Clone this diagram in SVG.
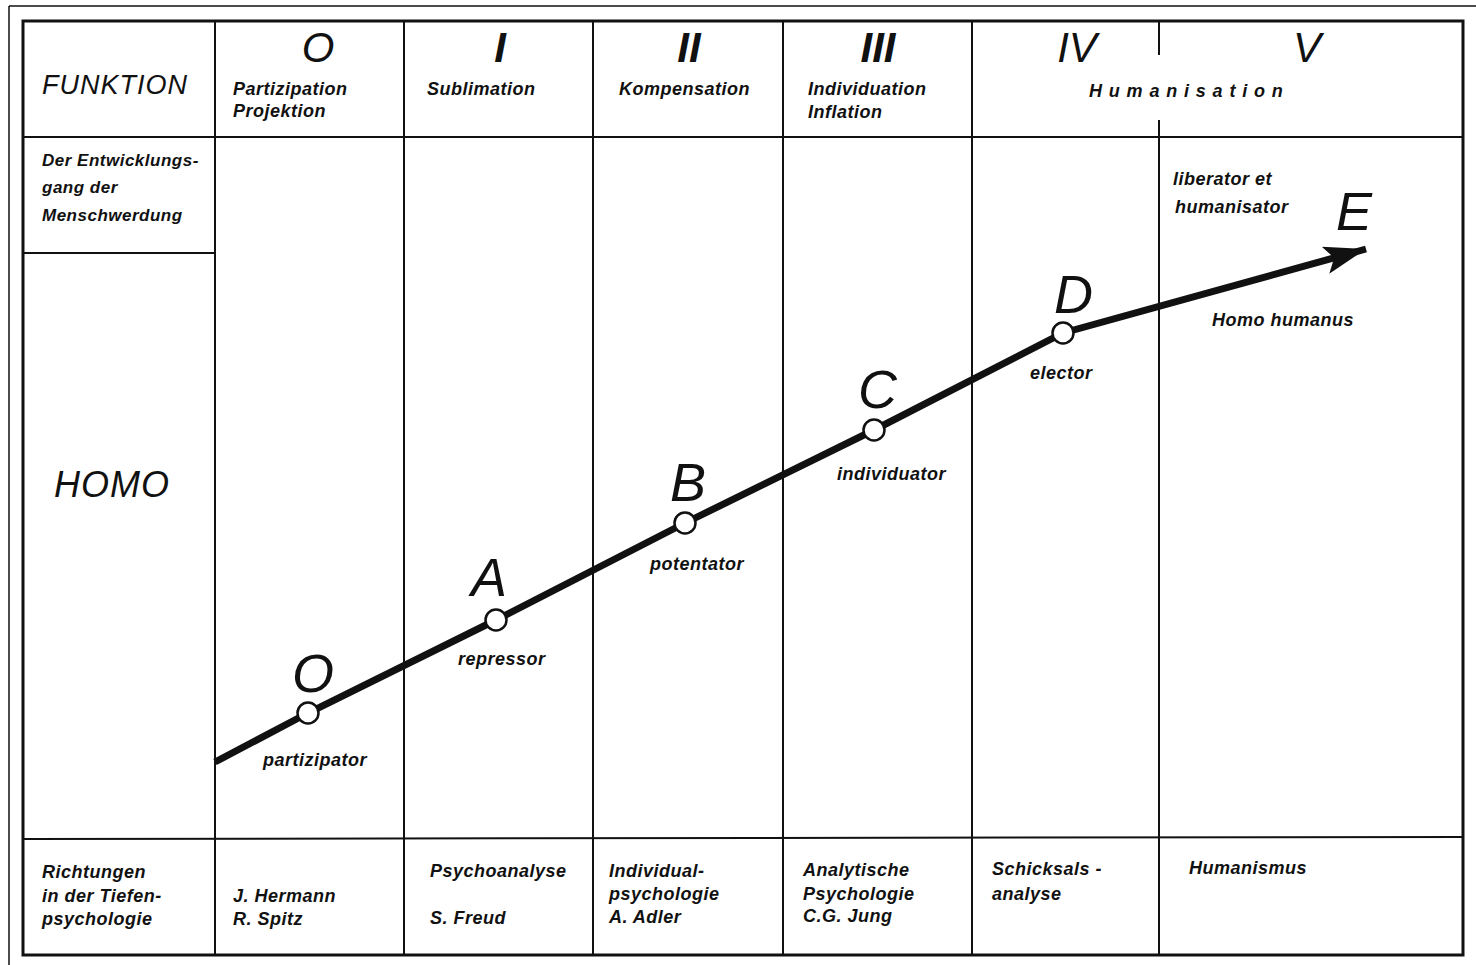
<svg xmlns="http://www.w3.org/2000/svg" width="1476" height="965" viewBox="0 0 1476 965">
<style>
.t{font-family:"Liberation Sans",Arial,sans-serif;font-style:italic;font-weight:bold;font-size:18px;letter-spacing:0.5px;fill:#111}
.big{font-family:"Liberation Sans",Arial,sans-serif;font-style:italic;font-weight:normal;font-size:54px;fill:#111}
.rn{font-family:"Liberation Sans",Arial,sans-serif;font-style:italic;font-weight:normal;font-size:42px;fill:#111;text-anchor:middle}
.hd{font-family:"Liberation Sans",Arial,sans-serif;font-style:italic;font-weight:normal;fill:#111}
.grid line{stroke:#111;stroke-width:2}
.node circle{fill:#fff;stroke:#111;stroke-width:2.5}
</style>
<defs>
<marker id="ah" markerUnits="userSpaceOnUse" markerWidth="44" markerHeight="28" refX="42" refY="14" orient="auto">
<path d="M0,0 L42,14 L0,28 L9,14 Z" fill="#111"/>
</marker>
</defs>
<rect width="1476" height="965" fill="#fff"/>
<g id="frame" class="grid">
<line x1="9" y1="6" x2="1476" y2="6" style="stroke-width:1.5"/>
<line x1="9" y1="6" x2="9" y2="965" style="stroke-width:1.5"/>
<rect x="23" y="21" width="1440" height="934" fill="none" stroke="#111" stroke-width="3"/>
<line x1="215" y1="21" x2="215" y2="955"/>
<line x1="404" y1="21" x2="404" y2="955"/>
<line x1="593" y1="21" x2="593" y2="955"/>
<line x1="783" y1="21" x2="783" y2="955"/>
<line x1="972" y1="21" x2="972" y2="955"/>
<line x1="1159" y1="21" x2="1159" y2="55"/>
<line x1="1159" y1="120" x2="1159" y2="955"/>
<line x1="23" y1="137" x2="1463" y2="137"/>
<line x1="23" y1="253" x2="215" y2="253"/>
<line x1="23" y1="839" x2="1463" y2="837"/>
</g>
<g id="header">
<text class="hd" x="42" y="94" style="font-size:27px;letter-spacing:1px">FUNKTION</text>
<text class="rn" x="318" y="62">O</text>
<text class="rn" x="500" y="62" style="font-weight:bold">I</text>
<text class="rn" x="689" y="62" style="font-weight:bold">II</text>
<text class="rn" x="878" y="62" style="font-weight:bold">III</text>
<text class="rn" x="1077" y="62">IV</text>
<text class="rn" x="1307" y="62">V</text>
<text class="t" x="233" y="95">Partizipation</text>
<text class="t" x="233" y="117">Projektion</text>
<text class="t" x="427" y="95">Sublimation</text>
<text class="t" x="619" y="95">Kompensation</text>
<text class="t" x="808" y="95">Individuation</text>
<text class="t" x="808" y="118">Inflation</text>
<text class="t" x="1089" y="97" style="letter-spacing:6.8px">Humanisation</text>
</g>
<g id="left">
<text class="t" x="42" y="166" style="font-size:17px">Der Entwicklungs-</text>
<text class="t" x="42" y="193" style="font-size:17px">gang der</text>
<text class="t" x="42" y="221" style="font-size:17px">Menschwerdung</text>
<text class="hd" x="54" y="497" style="font-size:36px;letter-spacing:1px">HOMO</text>
</g>
<g id="connectors">
<polyline points="215,762 308,713 496,620 685,523 874,430 1063,333 1366,249" fill="none" stroke="#111" stroke-width="7" marker-end="url(#ah)"/>
</g>
<g id="node-O" class="node"><circle cx="308" cy="713" r="10.5"/><text class="big" x="292" y="692">O</text><text class="t" x="263" y="766">partizipator</text></g>
<g id="node-A" class="node"><circle cx="496" cy="620" r="10.5"/><text class="big" x="471" y="596">A</text><text class="t" x="458" y="665">repressor</text></g>
<g id="node-B" class="node"><circle cx="685" cy="523" r="10.5"/><text class="big" x="670" y="501">B</text><text class="t" x="650" y="570">potentator</text></g>
<g id="node-C" class="node"><circle cx="874" cy="430" r="10.5"/><text class="big" x="858" y="408">C</text><text class="t" x="837" y="480">individuator</text></g>
<g id="node-D" class="node"><circle cx="1063" cy="333" r="10.5"/><text class="big" x="1054" y="313">D</text><text class="t" x="1030" y="379">elector</text></g>
<g id="node-E"><text class="big" x="1336" y="230">E</text><text class="t" x="1173" y="185">liberator et</text><text class="t" x="1175" y="213">humanisator</text><text class="t" x="1212" y="326">Homo humanus</text></g>
<g id="bottom">
<text class="t" x="42" y="878">Richtungen</text>
<text class="t" x="42" y="902">in der Tiefen-</text>
<text class="t" x="42" y="925">psychologie</text>
<text class="t" x="233" y="902">J. Hermann</text>
<text class="t" x="233" y="925">R. Spitz</text>
<text class="t" x="430" y="877">Psychoanalyse</text>
<text class="t" x="430" y="924">S. Freud</text>
<text class="t" x="609" y="877">Individual-</text>
<text class="t" x="609" y="900">psychologie</text>
<text class="t" x="609" y="923">A. Adler</text>
<text class="t" x="803" y="876">Analytische</text>
<text class="t" x="803" y="900">Psychologie</text>
<text class="t" x="803" y="922">C.G. Jung</text>
<text class="t" x="992" y="875">Schicksals -</text>
<text class="t" x="992" y="900">analyse</text>
<text class="t" x="1189" y="874">Humanismus</text>
</g>
</svg>
